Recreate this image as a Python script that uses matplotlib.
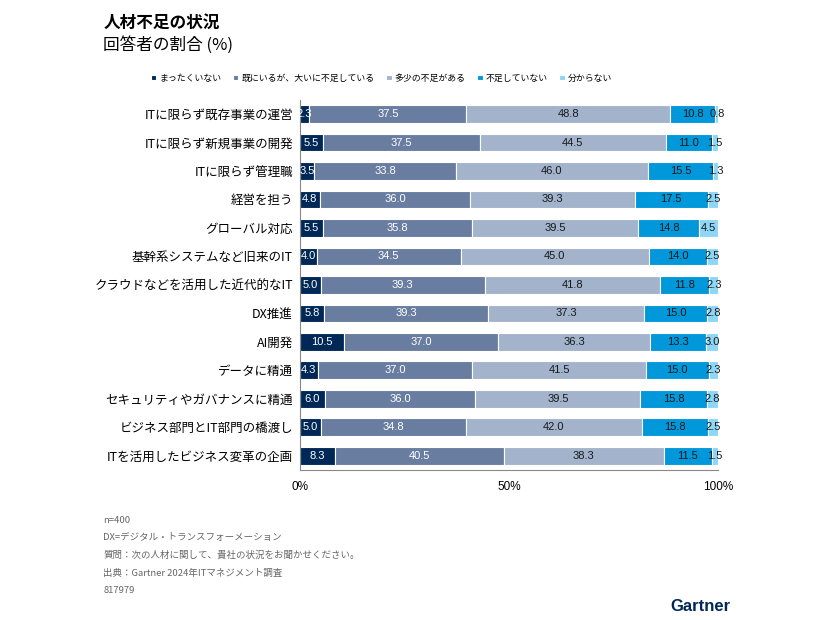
import matplotlib.pyplot as plt
import numpy as np

plt.rcParams['font.family'] = ['Noto Sans CJK JP', 'DejaVu Sans']

categories = ["ITに限らず既存事業の運営", "ITに限らず新規事業の開発", "ITに限らず管理職",
              "経営を担う", "グローバル対応", "基幹系システムなど旧来のIT",
              "クラウドなどを活用した近代的なIT", "DX推進", "AI開発", "データに精通",
              "セキュリティやガバナンスに精通", "ビジネス部門とIT部門の橋渡し",
              "ITを活用したビジネス変革の企画"]
series_names = ["まったくいない", "既にいるが、大いに不足している", "多少の不足がある",
                "不足していない", "分からない"]
none_at_all = [2.3, 5.5, 3.5, 4.8, 5.5, 4.0, 5.0, 5.8, 10.5, 4.3, 6.0, 5.0, 8.3]
big_short = [37.5, 37.5, 33.8, 36.0, 35.8, 34.5, 39.3, 39.3, 37.0, 37.0, 36.0, 34.8, 40.5]
some_short = [48.8, 44.5, 46.0, 39.3, 39.5, 45.0, 41.8, 37.3, 36.3, 41.5, 39.5, 42.0, 38.3]
not_short = [10.8, 11.0, 15.5, 17.5, 14.8, 14.0, 11.8, 15.0, 13.3, 15.0, 15.8, 15.8, 11.5]
unknown = [0.8, 1.5, 1.3, 2.5, 4.5, 2.5, 2.3, 2.8, 3.0, 2.3, 2.8, 2.5, 1.5]

colors = ['#002856', '#687DA0', '#A2B3CB', '#0098DA', '#8DD6F6']
text_colors = ['white', 'white', '#1a1a1a', '#1a1a1a', '#1a1a1a']

fig = plt.figure(figsize=(8.26, 6.2), dpi=100)
ax = fig.add_axes([0.363, 0.242, 0.506, 0.597])

y = np.arange(len(categories))
left = np.zeros(len(categories))
for vals, name, c, tc in zip([none_at_all, big_short, some_short, not_short, unknown],
                             series_names, colors, text_colors):
    vals = np.array(vals)
    bars = ax.barh(y, vals, left=left, height=0.62, color=c, edgecolor='white',
                   linewidth=0.8, label=name)
    for b, v, l in zip(bars, vals, left):
        ax.text(l + v / 2, b.get_y() + b.get_height() / 2, f"{v:.1f}",
                ha='center', va='center', fontsize=8, color=tc,
                family=['Liberation Sans', 'DejaVu Sans'])
    left += vals

ax.set_ylim(len(categories) - 0.5, -0.5)
ax.set_xlim(0, 100)
ax.set_yticks(y)
ax.set_yticklabels(categories, fontsize=9)
ax.set_xticks([0, 50, 100])
ax.set_xticklabels(['0%', '50%', '100%'], fontsize=8.5,
                   family=['Liberation Sans', 'DejaVu Sans'])
ax.tick_params(axis='y', length=0, pad=5)
ax.tick_params(axis='x', length=0, pad=8)
for s in ['top', 'right']:
    ax.spines[s].set_visible(False)
ax.spines['left'].set_color('#888888')
ax.spines['bottom'].set_color('#888888')

fig.legend(loc='center', bbox_to_anchor=(0.462, 0.874), ncol=5, frameon=False,
           fontsize=6.4, handlelength=0.6, handleheight=0.6, handletextpad=0.35,
           columnspacing=1.3)

fig.text(0.125, 0.963, "人材不足の状況", fontsize=12, fontweight='bold', va='center')
fig.text(0.125, 0.927, "回答者の割合 (%)", fontsize=12, va='center')

notes = ["n=400", "DX=デジタル・トランスフォーメーション",
         "質問：次の人材に関して、貴社の状況をお聞かせください。",
         "出典：Gartner 2024年ITマネジメント調査", "817979"]
for i, n in enumerate(notes):
    fig.text(0.125, 0.161 - i * 0.0285, n, fontsize=6.8, color='#666666', va='center')

fig.text(0.884, 0.022, "Gartner", fontsize=12, fontweight='bold', color='#002856',
         ha='right', va='center', family=['Liberation Sans', 'DejaVu Sans'])

fig.savefig('out.png', dpi=100)
